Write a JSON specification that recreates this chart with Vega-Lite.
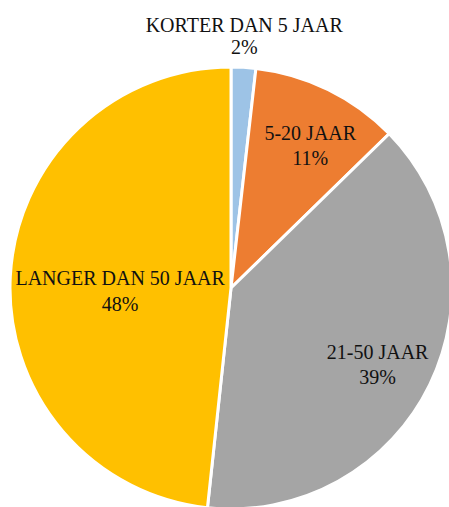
{
  "$schema": "https://vega.github.io/schema/vega-lite/v6.json",
  "width": 462,
  "height": 576,
  "autosize": {"type": "none"},
  "padding": {"left": 0, "top": 0, "right": 0, "bottom": 0},
  "background": "white",
  "view": {"stroke": null},
  "data": {
    "values": [
      {"cat": "KORTER DAN 5 JAAR", "idx": 1, "value": 1.8, "label": "KORTER DAN 5 JAAR\n2%"},
      {"cat": "5-20 JAAR", "idx": 2, "value": 10.9, "label": "5-20 JAAR\n11%"},
      {"cat": "21-50 JAAR", "idx": 3, "value": 39.0, "label": "21-50 JAAR\n39%"},
      {"cat": "LANGER DAN 50 JAAR", "idx": 4, "value": 48.3, "label": "LANGER DAN 50 JAAR\n48%"}
    ]
  },
  "encoding": {
    "theta": {"field": "value", "type": "quantitative", "stack": true},
    "order": {"field": "idx", "type": "quantitative"}
  },
  "layer": [
    {
      "mark": {"type": "arc", "radius": 221, "stroke": "white", "strokeWidth": 3},
      "encoding": {
        "color": {
          "field": "cat",
          "type": "nominal",
          "scale": {
            "domain": ["KORTER DAN 5 JAAR", "5-20 JAAR", "21-50 JAAR", "LANGER DAN 50 JAAR"],
            "range": ["#9DC3E6", "#ED7D31", "#A5A5A5", "#FFC000"]
          },
          "legend": null
        }
      }
    },
    {
      "mark": {"type": "text", "radius": 252, "dx": -1, "dy": -10, "font": "Liberation Serif", "fontSize": 20, "lineBreak": "\n", "lineHeight": 22, "color": "#111", "align": "center", "baseline": "middle"},
      "encoding": {"text": {"condition": {"test": "datum.idx == 1", "field": "label"}, "value": ""}}
    },
    {
      "mark": {"type": "text", "radius": 162, "dx": 8, "dy": -9, "font": "Liberation Serif", "fontSize": 20, "lineBreak": "\n", "lineHeight": 25, "color": "#111", "align": "center", "baseline": "middle"},
      "encoding": {"text": {"condition": {"test": "datum.idx == 2", "field": "label"}, "value": ""}}
    },
    {
      "mark": {"type": "text", "radius": 163, "dy": -6, "font": "Liberation Serif", "fontSize": 20, "lineBreak": "\n", "lineHeight": 25, "color": "#111", "align": "center", "baseline": "middle"},
      "encoding": {"text": {"condition": {"test": "datum.idx == 3", "field": "label"}, "value": ""}}
    },
    {
      "mark": {"type": "text", "radius": 111, "dy": -3, "font": "Liberation Serif", "fontSize": 20, "lineBreak": "\n", "lineHeight": 26, "color": "#111", "align": "center", "baseline": "middle"},
      "encoding": {"text": {"condition": {"test": "datum.idx == 4", "field": "label"}, "value": ""}}
    }
  ]
}
